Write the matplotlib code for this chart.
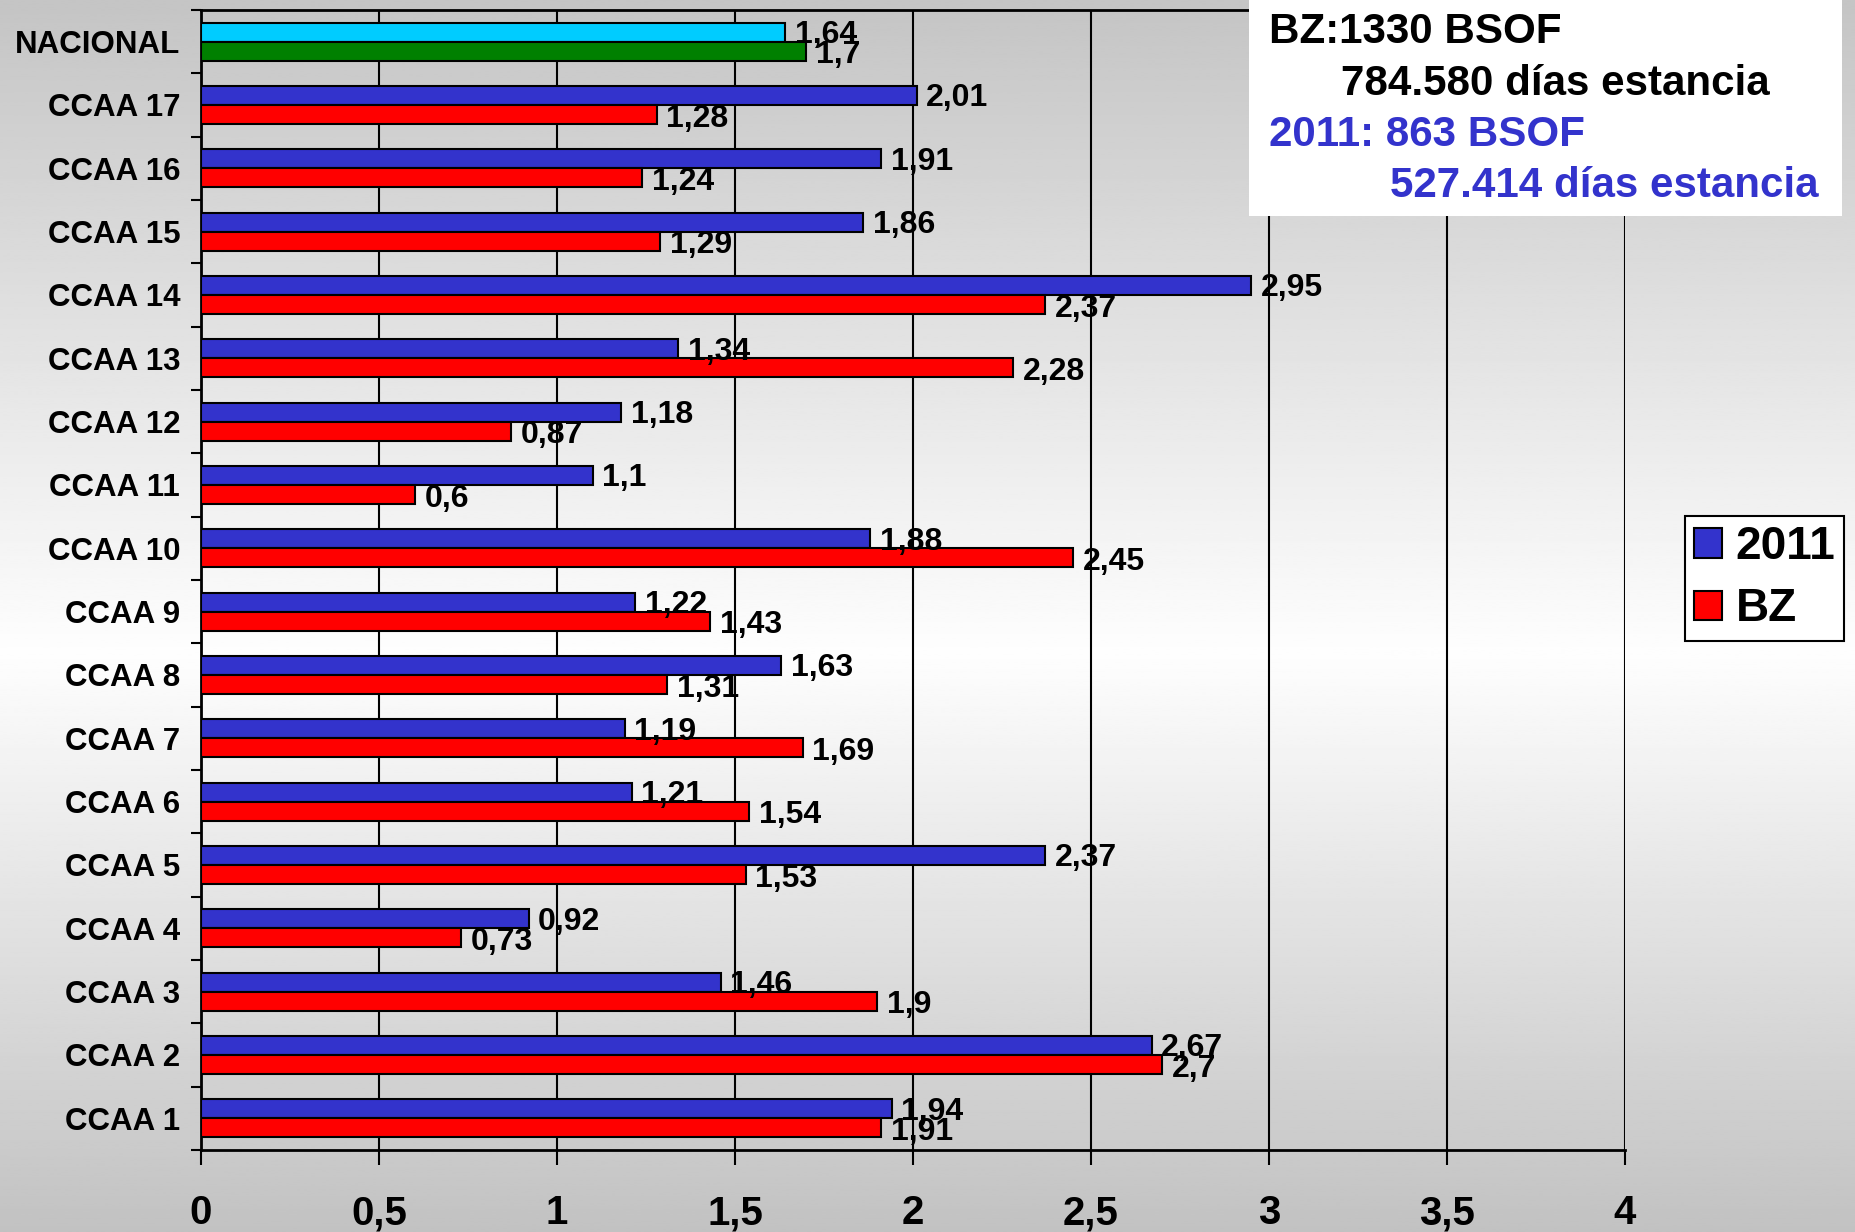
import numpy as np
import matplotlib
matplotlib.use('Agg')
import matplotlib.pyplot as plt
from matplotlib.patches import Patch, Rectangle

# data, listed top to bottom as in the chart
categories = ['NACIONAL', 'CCAA 17', 'CCAA 16', 'CCAA 15', 'CCAA 14', 'CCAA 13',
              'CCAA 12', 'CCAA 11', 'CCAA 10', 'CCAA 9', 'CCAA 8', 'CCAA 7',
              'CCAA 6', 'CCAA 5', 'CCAA 4', 'CCAA 3', 'CCAA 2', 'CCAA 1']
vals_2011 = [1.64, 2.01, 1.91, 1.86, 2.95, 1.34, 1.18, 1.1, 1.88, 1.22,
             1.63, 1.19, 1.21, 2.37, 0.92, 1.46, 2.67, 1.94]
vals_bz = [1.7, 1.28, 1.24, 1.29, 2.37, 2.28, 0.87, 0.6, 2.45, 1.43,
           1.31, 1.69, 1.54, 1.53, 0.73, 1.9, 2.7, 1.91]
xticks = [0, 0.5, 1, 1.5, 2, 2.5, 3, 3.5, 4]
xtick_labels = ['0', '0,5', '1', '1,5', '2', '2,5', '3', '3,5', '4']
series_names = ['2011', 'BZ']
box_lines = ['BZ:1330 BSOF', '784.580 días estancia', '2011: 863 BSOF', '527.414 días estancia']

BLUE = '#3333CC'
RED = '#FF0000'
CYAN = '#00CCFF'
GREEN = '#008000'
FONT = 'Liberation Sans'

plt.rcParams['font.family'] = [FONT, 'DejaVu Sans']
plt.rcParams['font.weight'] = 'bold'

fig = plt.figure(figsize=(18.55, 12.32), dpi=100)

# grey-white-grey vertical background
bg = fig.add_axes([0, 0, 1, 1], zorder=-10)
t = np.linspace(0, 1, 500)
g = np.interp(t, [0, 0.53, 1], [0.77, 0.995, 0.76])
bg.imshow(np.repeat(g[:, None], 2, axis=1), cmap='gray', vmin=0, vmax=1,
          aspect='auto', extent=[0, 1, 0, 1])
bg.axis('off')

ax = fig.add_axes([201 / 1855, 1 - 1150 / 1232, 1424 / 1855, 1140 / 1232], zorder=1)
ax.set_facecolor('none')

n = len(categories)
y = np.arange(n)[::-1]
h = 0.3
top_colors = [CYAN if c == 'NACIONAL' else BLUE for c in categories]
bot_colors = [GREEN if c == 'NACIONAL' else RED for c in categories]

ax.barh(y + h / 2, vals_2011, height=h, color=top_colors, edgecolor='black', linewidth=1.5, zorder=3)
ax.barh(y - h / 2, vals_bz, height=h, color=bot_colors, edgecolor='black', linewidth=1.5, zorder=3)

def fmt(v):
    return f"{v:g}".replace('.', ',')

for yi, v in zip(y, vals_2011):
    ax.annotate(fmt(v), (v, yi + h / 2), xytext=(7, -2), textcoords='offset points',
                va='center', ha='left', fontsize=23, fontweight='bold', zorder=5)
for yi, v in zip(y, vals_bz):
    ax.annotate(fmt(v), (v, yi - h / 2), xytext=(7, -3), textcoords='offset points',
                va='center', ha='left', fontsize=23, fontweight='bold', zorder=5)

ax.set_xlim(0, 4)
ax.set_ylim(-0.5, n - 0.5)

ax.set_xticks(xticks)
ax.set_xticklabels(xtick_labels, fontsize=29, fontweight='bold')
ax.tick_params(axis='x', direction='out', length=11, width=1.5, pad=21)
ax.xaxis.grid(True, color='black', linewidth=1.5, zorder=0)
ax.set_axisbelow(True)

# boundary ticks on y, labels at category centres
ax.set_yticks(np.arange(-0.5, n, 1.0))
ax.set_yticklabels([])
ax.tick_params(axis='y', which='major', direction='out', length=7, width=1.5)
ax.set_yticks(y, minor=True)
ax.set_yticklabels(categories, minor=True, fontsize=22.5, fontweight='bold')
ax.tick_params(axis='y', which='minor', length=0, pad=15)

for s in ['left', 'bottom', 'top']:
    ax.spines[s].set_linewidth(2)
ax.spines['right'].set_visible(False)

# white info box top right
fig.add_artist(Rectangle((1249 / 1855, 1 - 216 / 1232), 593 / 1855, 216 / 1232,
                         transform=fig.transFigure, facecolor='white', edgecolor='none', zorder=6))
box_x = [1269, 1341, 1269, 1390]
box_base = [43, 95, 146, 197]
box_col = ['black', 'black', BLUE, BLUE]
for txt, bx, by, c in zip(box_lines, box_x, box_base, box_col):
    fig.text(bx / 1855, 1 - by / 1232, txt, fontsize=30.3, fontweight='bold', color=c,
             ha='left', va='baseline', zorder=7)

handles = [Patch(facecolor=BLUE, edgecolor='black', linewidth=1.5),
           Patch(facecolor=RED, edgecolor='black', linewidth=1.5)]
leg = fig.legend(handles, series_names, loc='upper left',
                 bbox_to_anchor=(1685 / 1855, 1 - 516 / 1232), borderaxespad=0,
                 prop={'family': FONT, 'weight': 'bold', 'size': 33},
                 handlelength=0.6, handleheight=0.6, handletextpad=0.3,
                 labelspacing=0.4, borderpad=0.2, fancybox=False, framealpha=1,
                 edgecolor='black')
leg.get_frame().set_linewidth(1.5)

fig.savefig('out.png', dpi=100)
